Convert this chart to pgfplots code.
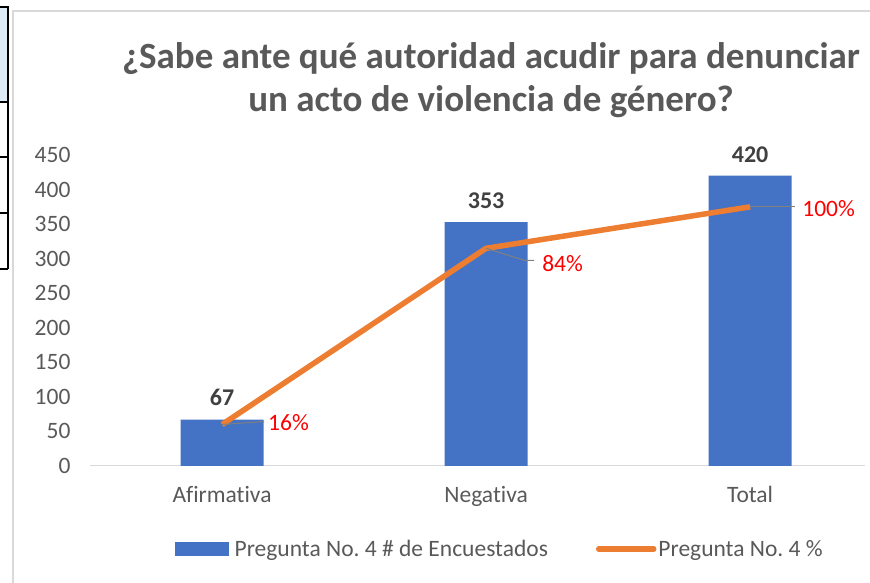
\documentclass[border=0pt]{standalone}
\usepackage{pgfplots}
\pgfplotsset{compat=1.18}
\usepackage{fontspec}
\setmainfont{Carlito}[Ligatures={NoCommon}]
\definecolor{barblue}{HTML}{4472C4}
\definecolor{lineorange}{HTML}{ED7D31}
\definecolor{txtgray}{HTML}{595959}
\definecolor{gridgray}{HTML}{D9D9D9}
\definecolor{lblgray}{HTML}{404040}
\definecolor{cellblue}{HTML}{DDEBF7}
\begin{document}
\begin{tikzpicture}
\useasboundingbox (0pt,0pt) rectangle (870pt,583pt);
% spreadsheet cells at the left edge
\fill[cellblue] (0pt,576pt) rectangle (8pt,481pt);
\draw[black, line width=1.3pt] (0pt,576pt) -- (8pt,576pt) -- (8pt,314pt);
\foreach \yy in {481,426,370,314} \draw[black, line width=1.3pt] (0pt,\yy pt) -- (8pt,\yy pt);
% chart border
\draw[gridgray, line width=1.5pt] (13pt,-10pt) -- (13pt,572pt) -- (880pt,572pt);
% title
\node[font=\fontsize{37}{43}\selectfont\bfseries, text=txtgray, align=center] at (491pt,502.5pt)
  {¿Sabe ante qué autoridad acudir para denunciar\\un acto de violencia de género?};
\begin{axis}[
  at={(90pt,117pt)}, anchor=south west,
  scale only axis, width=775pt, height=311pt,
  xmin=-0.5, xmax=2.435, ymin=0, ymax=450,
  xtick={0,1,2}, xticklabels={Afirmativa,Negativa,Total},
  ytick={0,50,...,450},
  ymajorgrids, grid style={gridgray, line width=1pt},
  axis y line=none,
  axis x line*=bottom, axis line style={gridgray, line width=1pt},
  x axis line style={-},
  major tick length=0pt,
  tick label style={font=\fontsize{23.5}{28}\selectfont, text=txtgray},
  /pgf/number format/assume math mode=true,
  xticklabel style={yshift=-17pt},
  clip=false,
]
\addplot[ybar, bar width=83pt, fill=barblue, draw=none,
  nodes near coords,
  nodes near coords style={font=\fontsize{24}{28}\selectfont\bfseries, text=lblgray, yshift=10pt}]
  coordinates {(0,67) (1,353) (2,420)};
\end{axis}
\begin{axis}[
  at={(90pt,117pt)}, anchor=south west,
  scale only axis, width=775pt, height=311pt,
  xmin=-0.5, xmax=2.435, ymin=0, ymax=450,
  ytick={0,50,...,450}, xtick=\empty,
  axis x line=none, axis y line*=left, y axis line style={draw=none},
  major tick length=0pt,
  yticklabel style={font=\fontsize{23.5}{28}\selectfont, text=txtgray, xshift=-16pt},
  /pgf/number format/assume math mode=true,
]
\addplot[draw=none] coordinates {(0,0)};
\end{axis}
\begin{axis}[
  at={(90pt,117pt)}, anchor=south west,
  scale only axis, width=775pt, height=311pt,
  xmin=-0.5, xmax=2.435, ymin=0, ymax=1.2,
  hide axis, clip=false,
  legend style={at={(0.529,-0.267)}, anchor=center, draw=none, fill=none,
    legend columns=2, font=\fontsize{23.5}{28}\selectfont, text=txtgray,
    /tikz/every even column/.append style={column sep=46pt},
    legend cell align=left},
]
\addlegendimage{legend image code/.code={\fill[barblue] (0pt,-6pt) rectangle (53pt,7pt); \path (57pt,0pt);}}
\addlegendentry{Pregunta No.\ 4 \# de Encuestados}
\addplot[lineorange, line width=5.5pt, line join=round, no markers,
  legend image code/.code={\draw[lineorange, line width=5.5pt, line cap=round] (0pt,0pt) -- (55pt,0pt);}]
  coordinates {(0,0.16) (1,0.84) (2,1.00)};
\addlegendentry{Pregunta No.\ 4 \%}
\draw[gray, line width=1pt] (axis cs:0,0.16) -- ++(42pt,3pt);
\node[anchor=west, font=\fontsize{23.5}{28}\selectfont, text=red, inner sep=0pt] at ([shift={(46pt,2pt)}]axis cs:0,0.16) {16\%};
\draw[gray, line width=1pt] (axis cs:1,0.84) -- ++(38pt,-12pt) -- ++(10pt,0pt);
\node[anchor=west, font=\fontsize{23.5}{28}\selectfont, text=red, inner sep=0pt] at ([shift={(56pt,-15pt)}]axis cs:1,0.84) {84\%};
\draw[gray, line width=1pt] (axis cs:2,1.00) -- ++(45pt,0pt);
\node[anchor=west, font=\fontsize{23.5}{28}\selectfont, text=red, inner sep=0pt] at ([shift={(52pt,-2pt)}]axis cs:2,1.00) {100\%};
\end{axis}
\end{tikzpicture}
\end{document}
